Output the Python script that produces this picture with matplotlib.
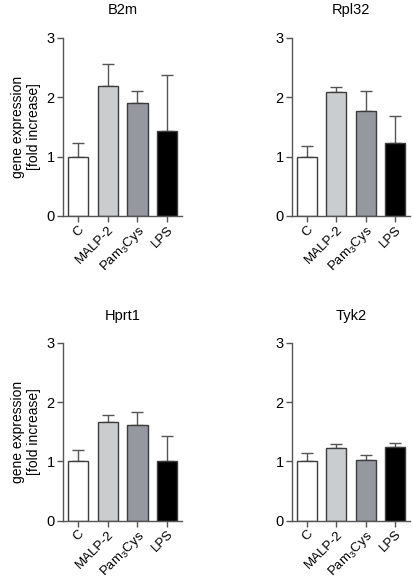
import matplotlib
matplotlib.use("Agg")
import matplotlib.pyplot as plt
import numpy as np

plt.rcParams['font.family'] = ['Liberation Sans', 'DejaVu Sans']
plt.rcParams['mathtext.fontset'] = 'custom'
plt.rcParams['mathtext.rm'] = 'Liberation Sans'
plt.rcParams['mathtext.it'] = 'Liberation Sans'

categories = ['C', 'MALP-2', r'Pam$_3$Cys', 'LPS']
genes = ['B2m', 'Rpl32', 'Hprt1', 'Tyk2']
b2m_mean = [1.0, 2.19, 1.91, 1.44]
b2m_err = [0.23, 0.38, 0.19, 0.93]
rpl32_mean = [1.0, 2.09, 1.775, 1.235]
rpl32_err = [0.18, 0.09, 0.325, 0.455]
hprt1_mean = [1.0, 1.67, 1.61, 1.0]
hprt1_err = [0.20, 0.11, 0.22, 0.43]
tyk2_mean = [1.0, 1.225, 1.03, 1.236]
tyk2_err = [0.14, 0.075, 0.08, 0.075]
yticks = [0, 1, 2, 3]

means = [b2m_mean, rpl32_mean, hprt1_mean, tyk2_mean]
errs = [b2m_err, rpl32_err, hprt1_err, tyk2_err]
colors = ['#ffffff', '#cbccce', '#96989f', '#000000']
edge = '#3c3c3c'

fig = plt.figure(figsize=(4.14, 5.8), dpi=100)
positions = [
    [0.152, 0.6276, 0.288, 0.3069],
    [0.705, 0.6276, 0.285, 0.3069],
    [0.152, 0.1022, 0.288, 0.3069],
    [0.705, 0.1022, 0.285, 0.3069],
]
title_pads = [17.5, 17.5, 16, 16]

for i, (g, m, e, pos) in enumerate(zip(genes, means, errs, positions)):
    ax = fig.add_axes(pos)
    x = np.arange(len(categories))
    ax.bar(x, m, width=0.68, color=colors, edgecolor=edge, linewidth=1.0, zorder=2)
    ax.errorbar(x, m, yerr=[np.zeros(len(m)), e], fmt='none', ecolor='#555555',
                elinewidth=1.0, capsize=4, capthick=1.0, zorder=1)
    ax.set_xlim(-0.5, 3.5)
    ax.set_ylim(0, 3)
    ax.set_yticks(yticks)
    ax.set_yticklabels([str(t) for t in yticks], fontsize=10.5)
    ax.set_xticks(x)
    ax.set_xticklabels(categories, rotation=45, ha='right', rotation_mode='anchor', fontsize=9.5)
    for s in ['top', 'right']:
        ax.spines[s].set_visible(False)
    for s in ['left', 'bottom']:
        ax.spines[s].set_color('#555555')
        ax.spines[s].set_linewidth(1.0)
    ax.tick_params(axis='both', colors='#555555', length=4, width=1.0, labelcolor='black', pad=2)
    ax.tick_params(axis='x', pad=1.5)
    ax.set_title(g, fontsize=10.5, pad=title_pads[i])
    if i % 2 == 0:
        ax.set_ylabel('gene expression\n[fold increase]', fontsize=10, labelpad=4, linespacing=1.15)

fig.savefig('out.png', dpi=100)
